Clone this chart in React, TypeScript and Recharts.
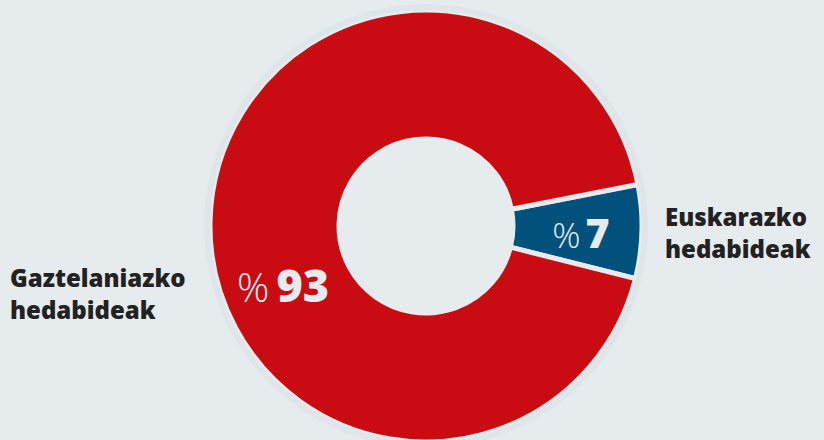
import { PieChart, Pie, Cell } from 'recharts';

const names = ['Euskarazko hedabideak', 'Gaztelaniazko hedabideak'];
const shares = [7, 93];
const colors = ['#00527d', '#c90c12'];

const data = names.map((name, i) => ({ name, value: shares[i] }));
const ring = [{ name: 'ring', value: 1 }];

const BG = '#e6ecee';
const FONT = '"Open Sans", sans-serif';
const CX = 426;
const CY = 226;
const R = 216;
const R_IN = 87;

// blue slice centred just under the 3 o'clock direction
const start = -(360 * shares[0]) / 100 / 2 - 1.5;

const RAD = Math.PI / 180;

function renderLabel(props: any) {
  const { cx, cy, midAngle, index, value } = props;
  // the big figure for the red slice sits a bit below the horizontal
  const angle = index === 0 ? midAngle - 1 : midAngle + 24.3;
  const r = 155;
  const x = cx + r * Math.cos(-angle * RAD);
  const y = cy + r * Math.sin(-angle * RAD);
  const big = index === 0 ? 41 : 45;
  const pct = index === 0 ? 35 : 40;
  const words = names[index].split(' ');
  const lx = index === 0 ? 665 : 10;
  const ly = index === 0 ? cy : cy + 61;
  return (
    <g>
      <text x={x} y={y + big * 0.36} textAnchor="middle" fill={BG} fontFamily={FONT}>
        <tspan fontSize={pct} fontWeight={300}>%</tspan>
        <tspan fontSize={big} fontWeight={800} dx={index === 0 ? 5 : 7}>{value}</tspan>
      </text>
      <text x={lx} y={ly} fill="#222" fontFamily={FONT} fontWeight={800} fontSize={24}>
        <tspan x={lx} dy={0}>{words[0]}</tspan>
        <tspan x={lx} dy={32}>{words[1]}</tspan>
      </text>
    </g>
  );
}

export default function App() {
  return (
    <div style={{ width: 824, height: 440, background: BG, overflow: 'hidden' }}>
      <style>{'body{margin:0}'}</style>
      <PieChart width={824} height={440} margin={{ top: 0, right: 0, bottom: 0, left: 0 }}>
        <Pie
          data={data}
          dataKey="value"
          cx={CX}
          cy={CY}
          innerRadius={R_IN}
          outerRadius={R}
          startAngle={start}
          endAngle={start + 360}
          stroke={BG}
          strokeWidth={5}
          label={renderLabel}
          labelLine={false}
          isAnimationActive={false}
        >
          {data.map((d, i) => (
            <Cell key={d.name} fill={colors[i]} />
          ))}
        </Pie>
        <Pie
          data={ring}
          dataKey="value"
          cx={CX}
          cy={CY}
          innerRadius={R}
          outerRadius={R + 6}
          fill="#dfe6e9"
          stroke="none"
          isAnimationActive={false}
        />
      </PieChart>
    </div>
  );
}
